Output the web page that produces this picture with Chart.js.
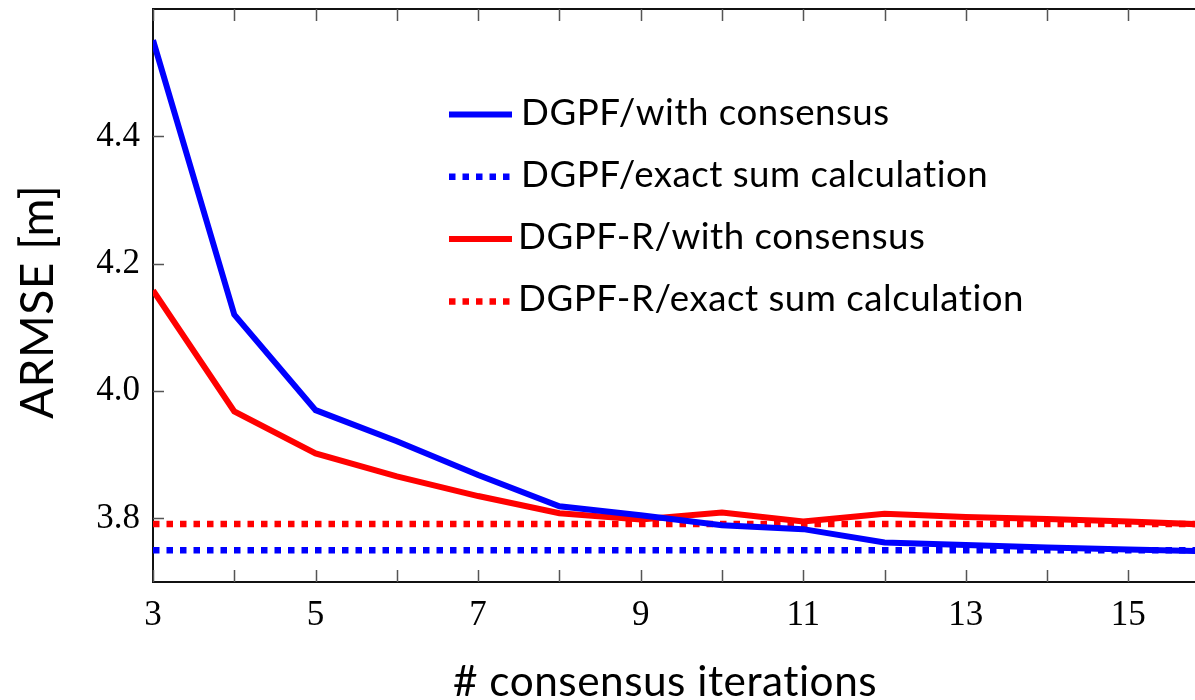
<!DOCTYPE html>
<html>
<head>
<meta charset="utf-8">
<script src="https://cdn.jsdelivr.net/npm/chart.js@4"></script>
<style>
  html, body { margin: 0; padding: 0; background: #fff; }
  #wrap { width: 1195px; height: 700px; position: relative; }
</style>
</head>
<body>
<div id="wrap"><canvas id="armseChart"></canvas></div>
<script>
// consensus iterations (x) and ARMSE values
const iterations = [3, 4, 5, 6, 7, 8, 9, 10, 11, 12, 13, 14, 15, 16];
const dgpfConsensus  = [4.551, 4.120, 3.970, 3.921, 3.868, 3.819, 3.805, 3.789, 3.783, 3.762, 3.758, 3.754, 3.751, 3.748];
const dgpfrConsensus = [4.158, 3.968, 3.902, 3.866, 3.835, 3.808, 3.798, 3.809, 3.795, 3.807, 3.802, 3.799, 3.795, 3.790];
// exact sum calculation: constant reference levels
const exactRange = [3, 16];
const dgpfExact  = [3.750, 3.750];
const dgpfrExact = [3.791, 3.791];

const xTicks = [3, 4, 5, 6, 7, 8, 9, 10, 11, 12, 13, 14, 15];
const yTicks = [3.8, 4.0, 4.2, 4.4];

const seriesLabels = [
  'DGPF/with consensus',
  'DGPF/exact sum calculation',
  'DGPF-R/with consensus',
  'DGPF-R/exact sum calculation'
];

const BLUE = '#0000ff';
const RED = '#ff0000';
const DOTS = [6.5, 7];
const SANS = 'Lato, "DejaVu Sans", sans-serif';
const SERIF = '"Liberation Serif", "DejaVu Serif", serif';

function toPoints(xs, ys) {
  return xs.map((x, i) => ({ x: x, y: ys[i] }));
}

// pick a font size so the text spans the given width
function fitFont(ctx, text, width) {
  ctx.font = '40px ' + SANS;
  const w = ctx.measureText(text).width;
  ctx.font = (40 * width / w).toFixed(2) + 'px ' + SANS;
}

// inner tick marks, top frame line, axis titles and the legend box
const decorations = {
  id: 'decorations',
  afterDraw(chart) {
    const ctx = chart.ctx;
    const area = chart.chartArea;
    const xs = chart.scales.x;
    const ys = chart.scales.y;
    ctx.save();

    // frame: top edge
    ctx.strokeStyle = '#111';
    ctx.lineWidth = 2;
    ctx.beginPath();
    ctx.moveTo(area.left, area.top);
    ctx.lineTo(area.right, area.top);
    ctx.stroke();

    // ticks pointing into the plot
    ctx.strokeStyle = '#555';
    ctx.lineWidth = 1.5;
    ctx.beginPath();
    xTicks.forEach(v => {
      const px = Math.round(xs.getPixelForValue(v)) + 0.5;
      ctx.moveTo(px, area.bottom);
      ctx.lineTo(px, area.bottom - 12);
      ctx.moveTo(px, area.top);
      ctx.lineTo(px, area.top + 12);
    });
    yTicks.forEach(v => {
      const py = Math.round(ys.getPixelForValue(v)) + 0.5;
      ctx.moveTo(area.left, py);
      ctx.lineTo(area.left + 11, py);
    });
    ctx.stroke();

    // axis titles
    ctx.fillStyle = '#000';
    ctx.letterSpacing = '0.5px';
    ctx.textBaseline = 'alphabetic';
    ctx.textAlign = 'center';
    fitFont(ctx, '# consensus iterations', 425);
    ctx.fillText('# consensus iterations', 665, 696);
    ctx.save();
    ctx.translate(53, 302);
    ctx.rotate(-Math.PI / 2);
    fitFont(ctx, 'ARMSE [m]', 235);
    ctx.fillText('ARMSE [m]', 0, 0);
    ctx.restore();

    // legend
    ctx.textAlign = 'left';
    fitFont(ctx, seriesLabels[0], 368);
    chart.data.datasets.forEach((ds, i) => {
      const y = 114.5 + i * 62.3;
      ctx.strokeStyle = ds.borderColor;
      ctx.lineWidth = ds.borderWidth;
      ctx.lineCap = 'butt';
      ctx.setLineDash(ds.borderDash || []);
      ctx.beginPath();
      ctx.moveTo(449, y);
      ctx.lineTo(512, y);
      ctx.stroke();
      ctx.setLineDash([]);
      ctx.fillText(ds.label, i < 2 ? 521 : 518, y + 10);
    });
    ctx.restore();
  }
};

new Chart(document.getElementById('armseChart'), {
  type: 'line',
  data: {
    datasets: [
      {
        label: seriesLabels[0],
        data: toPoints(iterations, dgpfConsensus),
        borderColor: BLUE,
        borderWidth: 6,
        pointRadius: 0
      },
      {
        label: seriesLabels[1],
        data: toPoints(exactRange, dgpfExact),
        borderColor: BLUE,
        borderWidth: 6.5,
        borderDash: DOTS,
        pointRadius: 0
      },
      {
        label: seriesLabels[2],
        data: toPoints(iterations, dgpfrConsensus),
        borderColor: RED,
        borderWidth: 6,
        pointRadius: 0
      },
      {
        label: seriesLabels[3],
        data: toPoints(exactRange, dgpfrExact),
        borderColor: RED,
        borderWidth: 6.5,
        borderDash: DOTS,
        pointRadius: 0
      }
    ]
  },
  options: {
    responsive: true,
    maintainAspectRatio: false,
    animation: false,
    layout: { padding: { top: 9, right: 0, bottom: 0, left: 0 } },
    elements: { line: { tension: 0, borderCapStyle: 'butt', borderJoinStyle: 'miter' } },
    plugins: {
      legend: { display: false },
      tooltip: { enabled: false }
    },
    scales: {
      x: {
        type: 'linear',
        min: 3,
        max: 15.82,
        afterBuildTicks: scale => { scale.ticks = xTicks.map(v => ({ value: v })); },
        afterFit: scale => {
          scale.height = 118;
          scale.paddingLeft = 0;
          scale.paddingRight = 0;
        },
        grid: { display: false, drawTicks: false },
        border: { display: true, color: '#111', width: 2 },
        ticks: {
          padding: 13,
          color: '#000',
          font: { family: SERIF, size: 35 },
          maxRotation: 0,
          autoSkip: false,
          callback: v => (v % 2 === 1 ? String(v) : '')
        }
      },
      y: {
        min: 3.7,
        max: 4.6,
        afterBuildTicks: scale => { scale.ticks = yTicks.map(v => ({ value: v })); },
        afterFit: scale => {
          scale.width = 153;
          scale.paddingTop = 0;
          scale.paddingBottom = 0;
        },
        grid: { display: false, drawTicks: false },
        border: { display: true, color: '#111', width: 2 },
        ticks: {
          padding: 13,
          color: '#000',
          font: { family: SERIF, size: 35 },
          callback: v => v.toFixed(1)
        }
      }
    }
  },
  plugins: [decorations]
});
</script>
</body>
</html>
